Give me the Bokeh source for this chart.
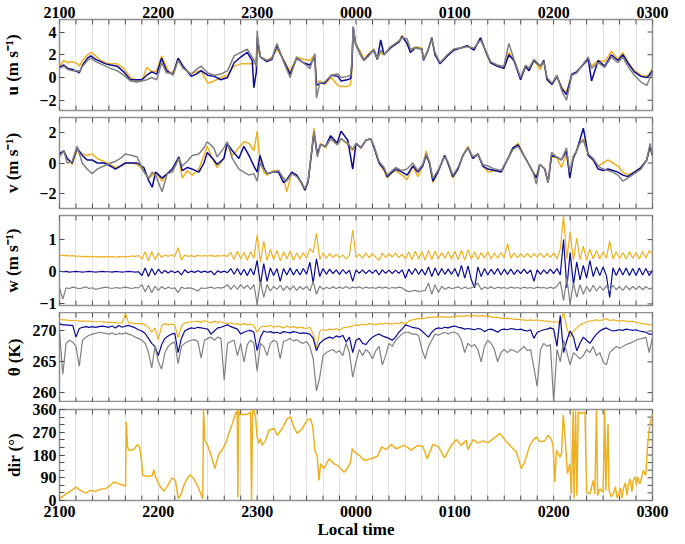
import math
from bokeh.plotting import figure
from bokeh.layouts import column
from bokeh.models import FixedTicker, Range1d, Label, LinearAxis
from bokeh.embed import file_html
from bokeh.resources import INLINE

FONT = "Liberation Serif"
YELLOW = "#EDB120"
BLUE = "#0A0A96"
GRAY = "#808080"
TICK_COLOR = "#4d4d4d"
FRAME_COLOR = "#8f8f8f"
GRID_COLOR = "#e2e2e2"

# ---------------- x axis (minutes after 2100 local time) ----------------
hour_ticks = [0, 60, 120, 180, 240, 300, 360]
hour_labels = ["2100", "2200", "2300", "0000", "0100", "0200", "0300"]
minor_ticks = list(range(0, 361, 10))

# ---------------- (a) u ----------------
u_t = [0, 2.6, 5, 8, 11, 12, 14, 17, 19, 22,
       25, 28, 31, 35, 39, 43, 47, 50, 53, 56,
       59, 62, 65, 67, 69, 72, 75, 80, 83, 86,
       90, 94, 98, 102, 106, 110, 114, 117, 118, 119.5,
       120, 121, 122, 126, 129, 132, 136, 140, 144, 148,
       152, 155, 156, 158, 161, 165, 169, 171, 174.6, 176.7,
       177.5, 178.3, 179.7, 182.7, 184.8, 187.8, 190.8, 192.9, 195, 197,
       201, 206, 208, 211, 213, 216, 220, 221, 223.5, 226,
       228, 231, 235.4, 239.4, 243.5, 247.5, 251.6, 255.6, 258.7, 261.7,
       265.7, 269.8, 272.8, 275.9, 279.9, 283, 285, 288, 292, 294,
       296, 299, 302, 305, 307.8, 311, 314, 317, 321, 323,
       327, 331, 335, 339, 342, 345, 349, 353, 356.5, 358,
       360]
u_yellow = [1.0, 1.5, 1.3, 1.4, 1.2, 1.0, 1.5, 2.0, 2.2, 1.9,
            1.5, 1.3, 1.2, 1.2, 0.8, 0.0, -0.3, -0.3, 0.9, 0.5,
            0.6, 1.9, 0.9, 0.4, 0.5, 1.6, 0.9, 0.3, 0.5, 0.6,
            -0.5, -0.3, 0.0, 0.2, 1.0, 1.2, 1.2, 1.2, 1.2, 1.8,
            3.5, 2.2, 1.8, 1.5, 1.8, 2.5, 1.6, 0.5, 1.8, 1.6,
            1.5, 2.0, -0.4, -0.3, -0.6, 0.0, -0.7, -0.8, -0.8, -0.6,
            0.5, 4.3, 3.0, 2.3, 1.6, 2.1, 2.5, 1.6, 2.2, 2.0,
            2.7, 3.2, 3.7, 3.0, 2.4, 2.7, 2.6, 1.6, 2.4, 3.3,
            2.0, 1.3, 1.9, 2.5, 2.6, 2.8, 2.5, 3.4, 2.3, 1.3,
            1.0, 0.8, 2.2, 1.5, 0.0, 1.0, 0.6, 1.5, 0.7, 1.5,
            -0.2, -0.6, 0.1, -0.9, -1.3, 0.3, 0.5, 1.0, 1.7, 1.0,
            1.5, 1.4, 2.3, 1.6, 2.2, 1.4, 0.6, 0.2, 0.1, 0.3,
            0.8]
u_blue = [0.9, 1.1, 0.8, 0.7, 0.5, 0.4, 1.1, 1.7, 1.9, 1.6,
          1.4, 1.2, 1.1, 1.0, 0.5, -0.2, -0.2, -0.2, 0.2, 0.5,
          0.3, 1.7, 0.6, 0.4, 0.3, 1.7, 1.0, 0.1, 0.3, 0.6,
          0.2, 0.1, -0.2, 0.0, 1.3, 1.8, 2.2, 1.5, -0.9, 0.5,
          3.5, 2.6, 1.8, 1.4, 1.6, 2.8, 1.5, 0.3, 1.7, 1.3,
          1.1, 1.8, -0.7, -0.5, -0.5, 0.2, 0.1, -0.3, -0.2, -0.1,
          1.0, 4.4, 3.0, 2.0, 1.5, 2.0, 2.4, 1.6, 3.3, 2.0,
          2.6, 3.1, 3.6, 3.0, 2.2, 2.6, 2.5, 1.5, 2.3, 3.5,
          2.0, 1.2, 1.9, 2.4, 2.6, 2.8, 2.4, 3.5, 2.3, 1.3,
          1.0, 0.8, 2.0, 1.5, -0.2, 1.0, 0.6, 1.5, 1.0, 1.5,
          -0.2, -0.6, 0.1, -1.0, -1.5, 0.3, 0.5, 1.0, 1.6, -0.3,
          1.5, 1.0, 2.0, 1.5, 2.0, 1.3, 0.5, 0.1, 0.0, 0.2,
          0.6]
u_gray = [0.8, 1.0, 0.7, 0.6, 0.6, 0.5, 1.0, 1.5, 1.7, 1.4,
          1.2, 1.0, 0.8, 0.6, 0.2, -0.3, -0.4, -0.3, -0.2, 0.0,
          -0.2, 1.3, 0.4, 0.4, 0.2, 1.5, 0.8, 0.3, 0.7, 1.0,
          0.4, 0.2, 0.3, 0.6, 1.9, 2.2, 2.5, 1.8, 1.5, 1.0,
          4.1, 2.8, 1.8, 1.5, 1.7, 3.0, 1.4, 0.0, 1.8, 1.3,
          0.8, 2.1, -1.8, -0.5, -0.4, 0.2, 0.3, 0.0, 0.1, 0.2,
          1.5, 4.5, 3.0, 2.0, 1.5, 1.9, 2.5, 1.7, 2.4, 2.0,
          2.7, 3.2, 3.5, 3.4, 2.5, 2.6, 2.5, 1.6, 2.3, 3.4,
          2.2, 1.3, 2.0, 2.5, 2.6, 2.7, 2.6, 3.3, 2.4, 1.4,
          1.1, 1.0, 3.0, 1.6, 0.0, 1.1, 0.8, 1.6, 1.0, 1.4,
          0.0, -0.5, 0.2, -1.2, -2.0, 0.2, 0.4, 1.0, 1.8, 0.8,
          1.3, 0.9, 1.8, 1.3, 1.8, 1.0, 0.2, -0.4, -0.7, -0.2,
          0.5]

# ---------------- (b) v ----------------
v_t = [0, 2.6, 4.7, 7.7, 10.7, 13.8, 16.8, 19.8, 22.9, 26.9,
       31, 34, 37, 40, 44.1, 47.2, 51.2, 54.3, 56.3, 58.3,
       62.3, 65.4, 68.4, 72.5, 74.5, 77.5, 80.6, 84.6, 87.7, 89.7,
       93.7, 95.7, 99.8, 101.8, 104.9, 108.9, 111.9, 115, 118, 120,
       121.7, 124, 126, 130, 133, 136, 138, 141, 144, 147,
       149, 151, 154.5, 156.5, 158.5, 161.5, 164.6, 168.6, 170.9, 175,
       178, 180, 183, 186, 189, 191, 194, 197, 199, 201,
       204, 208, 211, 214.5, 217.5, 220.5, 222.6, 224.6, 226.7, 229.7,
       233.8, 235.8, 238.8, 241.9, 244.9, 248, 251, 254, 257, 260.1,
       264.2, 268.2, 272.3, 275.3, 278.4, 281.4, 284.5, 287.5, 289.5, 291.6,
       294.6, 296.6, 298.7, 301.7, 304.7, 307.8, 309.8, 311.8, 313.9, 315.9,
       318, 321, 324, 327, 330, 333, 336, 339, 342, 345,
       349, 353, 356.5, 358.5, 360]
v_yellow = [0.6, 0.8, 0.3, -0.1, 0.8, 0.6, 0.5, 0.6, 0.3, 0.1,
            -0.1, -0.3, -0.2, 0.0, 0.0, -0.1, -0.5, -1.0, -0.8, -0.6,
            -1.2, -0.7, -0.6, 0.3, -1.0, -0.5, -0.8, -0.4, 0.5, 1.1,
            0.1, -0.3, 0.3, 1.2, 0.5, 1.0, 1.4, 1.3, 0.8, 2.1,
            0.2, -0.6, -0.8, -0.5, -0.6, -1.0, -1.9, -0.6, -0.8, -1.4,
            -1.8, -1.2, 2.3, 0.5, 1.3, 1.0, 1.6, 1.2, 1.6, 1.2,
            0.8, 1.3, 1.0, 1.5, 1.6, 1.0, 0.0, -0.5, -1.0, -0.7,
            -0.5, -0.8, -1.1, -0.2, -0.9, -0.2, 0.8, 0.0, -1.3, -0.6,
            0.5, 0.0, -1.0, -0.4, 0.5, 1.1, 0.3, 0.6, -0.2, -0.6,
            -0.5, -0.5, 0.3, 1.0, 1.3, 0.6, 0.0, -0.6, -0.9, -0.1,
            -0.4, -1.2, 0.4, 0.4, -0.3, 0.6, -0.8, 0.3, 0.8, 1.3,
            1.6, 0.5, 0.2, -0.2, 0.0, 0.2, 0.0, -0.2, -0.6, -0.8,
            -0.6, -0.3, 0.2, 1.0, 0.5]
v_blue = [0.6, 0.8, 0.3, 0.0, 1.0, 0.5, 0.2, 0.2, 0.0, 0.0,
          -0.2, -0.4, -0.2, 0.0, 0.0, 0.0, -0.3, -1.2, -1.6, -0.6,
          -1.0, -0.7, -0.4, 0.4, -0.5, -0.3, -0.4, -0.6, 0.0, 0.7,
          0.2, -0.1, 0.3, 1.3, 0.8, 0.3, 1.1, 0.5, -0.2, -0.6,
          0.5, -0.3, -0.7, -0.6, -0.6, -1.3, -1.1, -0.6, -0.8, -1.3,
          -1.8, -1.2, 2.0, 0.6, 1.2, 1.1, 1.8, 1.3, 2.1, 1.5,
          -0.4, 1.3, 1.0, 1.5, 1.6, 1.0, 0.0, -0.4, -0.9, -0.7,
          -0.4, -0.6, -0.8, -0.2, -0.6, -0.2, 0.5, 0.0, -1.2, -0.6,
          0.5, 0.0, -0.9, -0.4, 0.5, 1.0, 0.3, 0.6, -0.2, -0.4,
          -0.5, -0.6, 0.3, 1.0, 1.2, 0.6, 0.0, -0.6, -1.0, -0.1,
          -0.4, -1.3, 0.5, 0.4, 0.2, 0.8, -1.0, 0.3, 0.8, 1.5,
          2.3, 0.5, 0.2, -0.4, -0.5, -0.4, -0.5, -0.6, -0.8, -0.9,
          -0.6, -0.3, 0.2, 1.1, 0.5]
v_gray = [0.4, 0.8, 0.0, 0.1, 1.1, 0.0, -0.4, -0.7, -0.4, -0.2,
          0.0, 0.1, 0.3, 0.6, 0.5, 0.4, -0.6, -1.0, -0.6, -0.8,
          -1.9, -0.7, -0.6, 0.3, -0.2, 0.1, 0.5, 0.6, 1.0, 1.4,
          1.0, 0.4, 1.0, 1.4, 0.3, -0.4, -0.6, -0.8, -0.7, -1.2,
          0.0, -0.4, -0.7, -0.6, -0.5, -1.0, -1.2, -0.7, -0.9, -1.3,
          -1.7, -1.1, 2.1, 0.4, 1.2, 1.1, 1.6, 1.2, 1.6, 1.3,
          0.9, 1.3, 1.0, 1.5, 1.6, 1.1, 0.1, -0.3, -0.8, -0.6,
          -0.3, -0.5, -0.4, 0.0, -0.5, -0.1, 0.6, 0.1, -1.0, -0.5,
          0.4, 0.1, -0.8, -0.3, 0.5, 1.0, 0.4, 0.6, -0.1, -0.2,
          -0.4, -0.5, 0.3, 0.9, 1.1, 0.6, 0.0, -0.6, -1.4, -0.1,
          -0.4, -1.3, 0.7, 0.4, 0.2, 1.0, -0.6, 0.4, 0.8, 1.3,
          1.5, 0.6, 0.3, -0.2, -0.4, -0.5, -0.6, -0.8, -1.2, -1.0,
          -0.7, -0.4, 0.2, 1.3, 0.5]

# ---------------- (c) w and (d) theta : 2-minute samples ----------------
grid_t = list(range(0, 361, 2))
w_yellow = [0.52, 0.50, 0.51, 0.49, 0.50, 0.48, 0.49, 0.47, 0.48, 0.47, 0.48, 0.46, 0.47, 0.46, 0.47,
            0.46, 0.47, 0.45, 0.47, 0.46, 0.48, 0.47, 0.49, 0.48, 0.50, 0.40, 0.62, 0.33, 0.63, 0.38,
            0.58, 0.45, 0.52, 0.48, 0.53, 0.47, 0.75, 0.36, 0.52, 0.48, 0.50, 0.47, 0.51, 0.49, 0.50,
            0.49, 0.51, 0.48, 0.50, 0.49, 0.51, 0.48, 0.60, 0.38, 0.64, 0.40, 0.60, 0.36, 0.62, 0.42,
            1.15, 0.30, 0.95, 0.35, 0.70, 0.38, 0.66, 0.34, 0.62, 0.40, 0.64, 0.36, 0.58, 0.40, 0.60,
            0.42, 0.72, 0.60, 1.20, 0.38, 0.58, 0.42, 0.56, 0.45, 0.55, 0.44, 0.52, 0.40, 0.50, 1.30,
            0.45, 0.55, 0.42, 0.58, 0.44, 0.56, 0.45, 0.36, 0.58, 0.44, 0.56, 0.46, 0.58, 0.44, 0.55,
            0.40, 0.62, 0.38, 0.64, 0.40, 0.62, 0.36, 0.66, 0.38, 0.64, 0.40, 0.60, 0.42, 0.62, 0.40,
            0.64, 0.38, 0.66, 0.36, 0.68, 0.40, 0.62, 0.38, 0.60, 0.42, 0.62, 0.40, 0.58, 0.42, 0.60,
            0.44, 0.88, 0.42, 0.58, 0.44, 0.56, 0.45, 0.57, 0.44, 0.56, 0.46, 0.58, 0.44, 0.56, 0.45,
            0.58, 0.40, 0.70, 1.75, 0.40, 1.25, 0.35, 1.05, 0.38, 0.80, 0.36, 0.70, 0.40, 0.66, 0.40,
            0.62, 0.42, 0.95, 0.40, 0.62, 0.42, 0.60, 0.40, 0.62, 0.42, 0.60, 0.40, 0.64, 0.42, 0.66,
            0.55]
w_blue = [0.02, 0.00, 0.01, -0.01, 0.00, 0.01, 0.00, -0.01, 0.00, 0.01, 0.00, -0.01, 0.00, 0.01, 0.00,
          0.00, -0.01, 0.01, 0.00, -0.01, 0.00, 0.01, 0.00, -0.01, 0.00, -0.12, 0.12, -0.15, 0.10, -0.10,
          0.08, -0.05, 0.04, -0.04, 0.03, -0.03, 0.02, -0.10, 0.06, -0.03, 0.02, -0.02, 0.03, -0.02, 0.02,
          -0.02, 0.02, -0.10, 0.03, -0.02, 0.02, -0.03, 0.10, -0.08, 0.10, -0.10, 0.08, -0.12, 0.10, -0.10,
          0.35, -0.40, 0.25, -0.30, 0.12, -0.12, 0.10, -0.30, 0.10, -0.10, 0.12, -0.10, 0.08, -0.10, 0.10,
          -0.08, 0.30, -0.35, 0.40, -0.15, 0.10, -0.08, 0.08, -0.06, 0.06, -0.08, 0.07, -0.06, 0.05, -0.30,
          0.06, -0.05, 0.06, -0.06, 0.05, -0.05, 0.06, -0.10, 0.06, -0.05, 0.05, -0.06, 0.05, -0.05, 0.06,
          -0.20, 0.08, -0.08, 0.10, -0.08, 0.08, -0.10, 0.15, -0.15, 0.12, -0.12, 0.10, -0.08, 0.08, -0.08,
          0.10, -0.15, 0.20, -0.20, 0.18, -0.25, -0.50, 0.15, -0.15, 0.10, -0.10, 0.08, -0.08, 0.10, -0.10,
          0.08, -0.08, 0.08, -0.08, 0.06, -0.06, 0.08, -0.06, 0.06, -0.30, 0.06, -0.08, 0.06, -0.06, 0.08,
          -0.06, 0.10, -0.10, 1.00, -0.50, 0.60, -0.40, 0.30, -0.25, 0.20, -0.20, 0.35, -0.15, 0.15, -0.12,
          0.15, -0.12, -0.80, 0.12, -0.12, 0.12, -0.10, 0.12, -0.12, 0.10, -0.12, 0.12, -0.10, 0.10, -0.12,
          0.05]
w_gray = [-0.50, -0.85, -0.50, -0.52, -0.48, -0.50, -0.53, -0.50, -0.47, -0.52, -0.50, -0.55, -0.52, -0.50, -0.48,
          -0.50, -0.52, -0.49, -0.51, -0.50, -0.48, -0.50, -0.52, -0.49, -0.50, -0.40, -0.62, -0.42, -0.65, -0.45,
          -0.58, -0.46, -0.54, -0.48, -0.52, -0.50, -0.65, -0.48, -0.52, -0.50, -0.51, -0.55, -0.60, -0.50, -0.52,
          -0.50, -0.48, -0.52, -0.49, -0.51, -0.48, -0.40, -0.55, -0.42, -0.55, -0.40, -0.52, -0.42, -0.55, -0.40,
          -1.00, -0.30, -0.80, -0.40, -0.60, -0.45, -0.55, -0.42, -0.58, -0.45, -0.56, -0.44, -0.58, -0.46, -0.55,
          -0.45, -0.60, -0.30, -0.70, -0.45, -0.55, -0.48, -0.53, -0.47, -0.52, -0.48, -0.52, -0.46, -0.52, -0.48,
          -0.50, -0.47, -0.52, -0.48, -0.51, -0.49, -0.52, -0.47, -0.51, -0.48, -0.52, -0.49, -0.51, -0.48, -0.50,
          -0.58, -0.62, -0.60, -0.58, -0.62, -0.60, -0.58, -0.35, -0.70, -0.40, -0.65, -0.45, -0.55, -0.48, -0.52,
          -0.50, -0.47, -0.53, -0.48, -0.52, -0.50, -0.45, -0.35, -0.55, -0.48, -0.52, -0.47, -0.53, -0.48, -0.51,
          -0.49, -0.52, -0.48, -0.51, -0.49, -0.52, -0.48, -0.51, -0.49, -0.52, -0.48, -0.50, -0.49, -0.52, -0.48,
          -0.52, -0.45, -0.30, -0.90, -0.20, -1.00, -0.35, -0.80, -0.40, -0.70, -0.45, -0.62, -0.42, -0.60, -0.45,
          -0.58, -0.44, -0.60, -0.42, -0.56, -0.46, -0.58, -0.44, -0.56, -0.46, -0.55, -0.45, -0.56, -0.46, -0.54,
          -0.50]
th_yellow = [271.9, 271.8, 271.8, 271.7, 271.7, 271.7, 271.6, 271.6, 271.6, 271.6, 271.5, 271.5, 271.5, 271.5, 271.4,
             271.4, 271.4, 271.4, 271.3, 271.3, 272.8, 271.3, 271.3, 271.2, 271.2, 271.2, 271.0, 270.6, 269.8, 270.5,
             268.6, 270.8, 271.2, 271.0, 271.1, 271.0, 268.9, 270.8, 271.3, 271.4, 271.5, 271.5, 271.6, 271.4, 271.7,
             271.5, 271.3, 271.6, 271.4, 271.5, 271.3, 271.2, 271.3, 271.1, 271.2, 271.0, 271.2, 271.0, 271.1, 270.9,
             269.8, 270.6, 270.8, 270.7, 270.9, 270.6, 270.8, 270.7, 270.5, 270.8, 270.6, 270.7, 270.5, 270.6, 270.5,
             270.4, 270.6, 269.5, 267.2, 270.0, 270.2, 270.1, 270.3, 270.2, 270.4, 270.1, 270.5, 270.6, 270.7, 270.8,
             271.0, 270.9, 271.1, 271.0, 271.2, 271.1, 271.0, 271.2, 271.1, 271.3, 271.2, 271.1, 271.3, 271.2, 271.4,
             271.1, 271.6, 271.8, 271.9, 272.0, 272.0, 272.1, 272.2, 272.2, 272.3, 272.3, 272.3, 272.3, 272.2, 272.3,
             272.3, 272.4, 272.4, 272.4, 272.5, 272.5, 272.5, 272.4, 272.5, 272.4, 272.4, 272.3, 272.2, 272.2, 272.1,
             272.0, 272.1, 272.0, 271.9, 271.9, 271.8, 271.8, 271.7, 271.8, 271.7, 271.8, 271.7, 271.6, 271.6, 271.5,
             271.5, 271.5, 271.2, 273.0, 270.5, 269.0, 270.0, 270.5, 271.0, 271.2, 271.5, 271.6, 271.7, 271.8, 271.7,
             271.8, 272.0, 271.7, 271.8, 271.7, 271.6, 271.7, 271.6, 271.5, 271.6, 271.4, 271.3, 271.2, 271.1, 271.0,
             271.0]
th_blue = [271.2, 271.0, 271.0, 270.9, 270.9, 269.0, 270.4, 270.6, 270.7, 270.6, 270.7, 270.6, 270.7, 270.8, 270.7,
           270.6, 270.8, 270.5, 270.9, 270.6, 270.8, 270.9, 270.7, 270.5, 270.2, 270.0, 269.6, 268.8, 268.0, 267.5,
           266.0, 267.8, 268.8, 269.2, 269.5, 269.6, 266.5, 268.8, 270.0, 270.3, 270.5, 270.4, 270.6, 270.5, 270.4,
           270.3, 269.5, 270.0, 270.5, 270.6, 270.8, 271.0, 270.7, 270.5, 270.3, 269.5, 269.8, 270.0, 270.1, 269.8,
           266.8, 269.0, 270.0, 269.8, 269.9, 269.7, 269.8, 269.6, 269.9, 269.8, 269.7, 269.9, 269.8, 269.6, 269.7,
           269.6, 269.5, 268.8, 266.8, 268.0, 268.5, 268.8, 269.0, 268.8, 269.2, 269.0, 269.3, 268.2, 269.0, 266.5,
           268.5, 268.8, 268.0, 267.8, 268.5, 269.0, 269.3, 269.5, 269.2, 269.0, 268.8, 268.5, 269.0, 269.8, 270.3,
           271.0, 270.8, 270.6, 270.5, 270.4, 270.0, 269.5, 269.0, 269.8, 270.3, 270.5, 270.4, 270.6, 270.5, 270.7,
           270.8, 270.6, 270.5, 270.3, 270.4, 270.3, 270.2, 270.4, 270.3, 269.9, 270.2, 270.3, 270.1, 269.8, 270.2,
           270.3, 270.2, 270.4, 270.3, 270.2, 270.3, 270.1, 270.0, 270.2, 268.8, 269.8, 270.0, 270.2, 270.3, 270.5,
           270.3, 267.5, 272.5, 266.5, 268.5, 270.0, 269.0, 266.8, 268.0, 269.0, 268.5, 268.0, 268.8, 269.5, 270.0,
           270.3, 270.5, 270.2, 270.0, 270.1, 270.2, 270.1, 270.3, 270.2, 270.1, 270.2, 270.0, 269.9, 269.8, 269.5,
           269.5]
th_gray = [270.0, 263.0, 268.0, 268.5, 268.2, 267.5, 264.3, 268.5, 269.0, 269.3, 269.5, 269.6, 269.8, 269.7, 269.6,
           269.5, 269.7, 269.4, 269.6, 269.5, 269.7, 269.5, 269.3, 269.0, 268.8, 268.5, 268.0, 266.5, 264.0, 267.5,
           265.0, 263.8, 266.5, 267.5, 268.0, 268.2, 264.7, 267.5, 268.0, 268.3, 268.5, 268.6, 268.3, 265.6, 268.5,
           268.8, 269.0, 268.5, 269.0, 268.8, 262.0, 268.0, 268.3, 268.5, 266.0, 268.0, 265.0, 267.8, 268.5, 268.0,
           263.5, 268.0, 267.5, 266.0, 268.0, 268.5, 268.2, 265.5, 268.3, 268.5, 268.8, 268.4, 268.6, 268.2, 268.0,
           268.3, 267.5, 265.5, 260.3, 262.5, 266.0, 266.5, 266.8, 267.0, 266.5, 266.8, 266.0, 268.0, 266.5, 262.5,
           265.0, 267.0, 266.0, 267.0, 266.5, 265.5, 266.8, 267.5, 264.5, 266.0, 268.0, 267.5, 268.5, 269.0, 269.5,
           269.8, 269.8, 269.5, 269.5, 269.3, 267.0, 265.5, 267.5, 268.5, 269.5, 269.3, 269.6, 269.8, 269.5, 269.8,
           269.8, 269.5, 268.5, 266.5, 268.0, 267.5, 267.8, 267.0, 265.0, 267.5, 268.5, 268.0, 267.0, 265.0, 266.5,
           267.0, 266.5, 267.0, 266.8, 266.5, 267.0, 267.5, 266.8, 267.0, 264.0, 261.0, 267.0, 268.0, 267.5, 267.8,
           258.5, 267.0, 265.0, 268.5, 266.5, 264.5, 266.5, 266.0, 265.5, 266.0, 267.0, 266.5, 267.5, 266.0, 266.5,
           265.0, 264.5, 266.5, 267.0, 267.5, 267.2, 267.5, 267.8, 268.0, 268.2, 268.5, 268.7, 268.8, 269.0, 266.5,
           269.0]

# ---------------- (e) wind direction ----------------
dir_t = [0, 3.6, 7.7, 10.1, 12.8, 15.8, 18.8, 21.9, 24.9, 27.9,
         30, 33, 36, 39, 40.1, 40.5, 41.3, 42.1, 45.1, 47.2,
         48.6, 49.8, 50.6, 54.3, 56.3, 57.3, 58.3, 61.3, 63.4, 65.4,
         68.4, 70.4, 72.1, 73.5, 75.5, 77.5, 79.1, 81.6, 84.6, 87.0,
         87.4, 88.3, 90.3, 92.3, 94.3, 96.8, 98.8, 100.8, 102.8, 104.9,
         106.9, 107.9, 108.3, 108.7, 109.3, 110.9, 114, 116, 116.6, 117.2,
         118, 119, 120, 121, 122, 123, 125.1, 127.1, 130.2, 132.2,
         135.2, 138.3, 140.3, 142.3, 144.3, 147.4, 150.4, 152.4, 153.8, 155,
         156.5, 157.5, 158.5, 160.5, 162.6, 163.6, 166.6, 169.6, 172.7, 174.7,
         176.7, 177.7, 179, 182, 185, 189, 193, 195.6, 198.3, 201.3,
         204.3, 209.4, 213.5, 217.5, 220.6, 223.2, 226.7, 230.1, 233.8, 237.8,
         240.9, 243.9, 246.9, 248, 251, 254, 257.1, 260.1, 264.2, 267.2,
         269.2, 271.3, 274.3, 277.4, 280.4, 282.4, 285.5, 287.5, 289.5, 291.6,
         294.6, 296.6, 298.7, 299.7, 300.7, 301.7, 303.7, 304.8, 305.8, 306.8,
         308.4, 309.8, 310.8, 311.8, 312.4, 313.3, 314.1, 314.9, 316.9, 319,
         320, 322, 324, 325, 326, 326.7, 328, 330, 331, 331.7,
         333, 333.6, 335, 336.2, 337.5, 338.5, 339.2, 340.5, 341.5, 342.3,
         343.5, 344.5, 345.3, 346.5, 347.5, 348.3, 349.5, 350.3, 351, 352.4,
         354.4, 355.9, 357.1, 358.5, 360]
dir_val = [7, 24, 42, 53, 40, 29, 40, 36, 45, 46,
           56, 73, 66, 60, 56, 311, 212, 199, 201, 221,
           212, 159, 99, 95, 99, 122, 93, 53, 37, 56,
           90, 79, 7, 20, 60, 86, 102, 86, 46, 7,
           360, 238, 212, 172, 126, 185, 201, 225, 265, 304,
           344, 355, 13, 360, 338, 341, 340, 351, 0, 360,
           355, 331, 251, 225, 245, 218, 238, 278, 285, 258,
           285, 324, 331, 291, 265, 285, 318, 324, 291, 199,
           172, 79, 146, 126, 152, 165, 146, 135, 112, 126,
           152, 205, 192, 179, 159, 165, 175, 212, 201, 222,
           205, 218, 199, 218, 214, 165, 222, 212, 169, 218,
           241, 218, 238, 201, 241, 228, 236, 228, 249, 265,
           251, 232, 212, 192, 126, 152, 218, 238, 251, 232,
           236, 258, 241, 212, 73, 199, 172, 185, 338, 265,
           106, 146, 26, 357, 7, 355, 20, 351, 344, 351,
           33, 26, 79, 26, 357, 20, 46, 33, 357, 40,
           304, 40, 15, 26, 55, 10, 20, 50, 8, 46,
           70, 20, 60, 85, 35, 79, 95, 60, 93, 66,
           119, 99, 225, 304, 344]

x_range = Range1d(0, 360)
FRAME_W = 593


def style_x_axis(ax, standoff, axis_label=None):
    ax.ticker = FixedTicker(ticks=hour_ticks, minor_ticks=minor_ticks)
    ax.axis_line_color = None
    ax.major_tick_line_color = None
    ax.minor_tick_line_color = None
    ax.major_tick_in = 0
    ax.major_tick_out = 0
    ax.minor_tick_in = 0
    ax.minor_tick_out = 0
    ax.major_label_overrides = {t: s for t, s in zip(hour_ticks, hour_labels)}
    ax.major_label_text_font = FONT
    ax.major_label_text_font_style = "bold"
    ax.major_label_text_font_size = "16px"
    ax.major_label_text_color = "black"
    ax.major_label_standoff = standoff
    if axis_label:
        ax.axis_label = axis_label
        ax.axis_label_text_font = FONT
        ax.axis_label_text_font_style = "bold"
        ax.axis_label_text_font_size = "17px"
        ax.axis_label_text_color = "black"
        ax.axis_label_standoff = 0


def panel(y0, y1, yticks, ylabel, tag, tag_px, frame_h, b_top, b_bottom,
          top=False, bottom=False, yminor=None, standoff=4):
    p = figure(x_range=x_range, y_range=Range1d(y0, y1),
               frame_width=FRAME_W, frame_height=frame_h,
               output_backend="svg", toolbar_location=None,
               x_axis_location=None,
               min_border_left=59, min_border_right=32,
               min_border_top=b_top, min_border_bottom=b_bottom)
    p.background_fill_color = "white"
    p.border_fill_color = "white"
    p.outline_line_color = FRAME_COLOR
    p.outline_line_width = 1.5
    p.ygrid.visible = False
    p.xgrid.ticker = FixedTicker(ticks=minor_ticks)
    p.xgrid.grid_line_color = GRID_COLOR
    p.xgrid.grid_line_width = 1

    yminor = yminor or []
    ax = p.yaxis[0]
    ax.ticker = FixedTicker(ticks=yticks, minor_ticks=yminor)
    ax.axis_line_color = None
    ax.major_tick_in = 5
    ax.major_tick_out = 0
    ax.minor_tick_in = 5
    ax.minor_tick_out = 0
    ax.major_tick_line_color = TICK_COLOR
    ax.minor_tick_line_color = TICK_COLOR
    ax.major_label_text_font = FONT
    ax.major_label_text_font_style = "bold"
    ax.major_label_text_font_size = "16px"
    ax.major_label_text_color = "black"
    ax.major_label_standoff = 3
    ax.axis_label = ylabel
    ax.axis_label_text_font = FONT
    ax.axis_label_text_font_style = "bold"
    ax.axis_label_text_font_size = "17px"
    ax.axis_label_text_color = "black"
    ax.axis_label_standoff = standoff

    # inner tick marks on the top, bottom and right edges of the frame
    p.ray(x=minor_ticks, y=y1, length=5, length_units="screen",
          angle=-math.pi / 2, line_color=TICK_COLOR, line_width=1)
    p.ray(x=minor_ticks, y=y0, length=5, length_units="screen",
          angle=math.pi / 2, line_color=TICK_COLOR, line_width=1)
    p.ray(x=360, y=sorted(set(yticks) | set(yminor)), length=5, length_units="screen",
          angle=math.pi, line_color=TICK_COLOR, line_width=1)

    if top:
        ax_top = LinearAxis()
        style_x_axis(ax_top, 2)
        p.add_layout(ax_top, "above")
    if bottom:
        ax_bot = LinearAxis()
        style_x_axis(ax_bot, 5, "Local time")
        p.add_layout(ax_bot, "below")

    ty = y1 - tag_px * (y1 - y0) / frame_h
    p.add_layout(Label(x=362.5, y=ty, text=tag, text_font=FONT,
                       text_font_style="bold", text_font_size="18px",
                       text_baseline="middle", text_align="left",
                       text_color="black"))
    return p


def draw(p, t, ys, width=1.5):
    for y, c in zip(ys, [YELLOW, BLUE, GRAY]):
        p.line(t, y, line_color=c, line_width=width)


pa = panel(-2.9, 5.1, [-2, 0, 2, 4], "u (m s\u207b\u00b9)", "(a)", 20, 91, 19, 3,
           top=True, standoff=14)
draw(pa, u_t, [u_yellow, u_blue, u_gray])

pb = panel(-3.0, 3.0, [-2, 0, 2], "v (m s\u207b\u00b9)", "(b)", 14, 91, 4, 3, standoff=14)
draw(pb, v_t, [v_yellow, v_blue, v_gray])

pc = panel(-1.05, 1.75, [-1, 0, 1], "w (m s\u207b\u00b9)", "(c)", 16, 90, 4, 7, standoff=14)
draw(pc, grid_t, [w_yellow, w_blue, w_gray], width=1.2)

pd = panel(258.4, 273.0, [260, 265, 270], "\u03b8 (K)", "(d)", 11, 90, 0, 0, standoff=6)
draw(pd, grid_t, [th_yellow, th_blue, th_gray], width=1.2)

pe = panel(0, 360, [0, 90, 180, 270, 360], "dir (\u00b0)", "(e)", 26, 91, 7, 43,
           bottom=True, yminor=list(range(0, 361, 30)), standoff=6)
pe.line(dir_t, dir_val, line_color=YELLOW, line_width=1.5)

layout = column(pa, pb, pc, pd, pe)
open("out.html", "w").write(file_html(layout, INLINE))
